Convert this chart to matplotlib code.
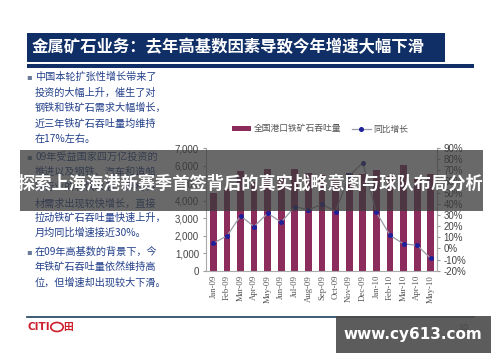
import matplotlib.pyplot as plt
from matplotlib.patches import Rectangle, Circle
from matplotlib.lines import Line2D
from matplotlib.ticker import FuncFormatter, MultipleLocator

plt.rcParams['font.family'] = ['Noto Sans CJK SC', 'DejaVu Sans']

months = ["Jan-09", "Feb-09", "Mar-09", "Apr-09", "May-09", "Jun-09", "Jul-09", "Aug-09", "Sep-09",
          "Oct-09", "Nov-09", "Dec-09", "Jan-10", "Feb-10", "Mar-10", "Apr-10", "May-10"]
throughput = [4430, 4660, 5670, 5040, 5800, 5420, 5800, 5570, 5480,
              5300, 5600, 5500, 5760, 5400, 6050, 5300, 5500]
yoy_growth = [4.6, 11.2, 29.1, 19.6, 31.5, 23.5, 37.5, 34.5, 39.6,
              33.0, 65.4, 76.5, 32.4, 11.8, 4.0, 2.8, -9.0]

title = "金属矿石业务：去年高基数因素导致今年增速大幅下滑"
bullets = [
    ["中国本轮扩张性增长带来了", "投资的大幅上升，催生了对", "钢铁和铁矿石需求大幅增长，",
     "近三年铁矿石吞吐量均维持", "在17%左右。"],
    ["09年受益国家四万亿投资的", "推进以及钢铁、汽车和造船", "等行业的较快发展，原材料",
     "材需求出现较快增长，直接", "拉动铁矿石吞吐量快速上升，", "月均同比增速接近30%。"],
    ["在09年高基数的背景下，今", "年铁矿石吞吐量依然维持高", "位，但增速却出现较大下滑。"],
]
banner = "探索上海海港新赛季首签背后的真实战略意图与球队布局分析"
watermark = "www.cy613.com"

W, H = 500, 362
fig = plt.figure(figsize=(5, 3.62), dpi=100)
fig.patch.set_facecolor('white')


def fx(x):
    return x / W


def fy(y):
    return 1 - y / H


# title bar
fig.add_artist(Rectangle((fx(27), fy(62)), fx(418), 29 / H, transform=fig.transFigure,
                         facecolor='#0f2f66', edgecolor='none', zorder=1))
fig.add_artist(Rectangle((fx(27), fy(68)), fx(447), 4 / H, transform=fig.transFigure,
                         facecolor='#0f2f66', edgecolor='none', zorder=1))
fig.text(fx(32), fy(47.5), title, color='white', fontsize=11.8, fontweight='bold',
         va='center', ha='left')

# bullet text
blue = '#23408a'
line_y = [[77, 93, 108, 124, 139], [157, 172, 187, 203, 218, 233], [252, 267, 282]]
for lines, ys in zip(bullets, line_y):
    fig.text(fx(26), fy(ys[0]), "▪", color='#6a7a99', fontsize=6, va='center', ha='left',
             family='DejaVu Sans')
    for s, y in zip(lines, ys):
        fig.text(fx(35), fy(y), s, color=blue, fontsize=7.3, va='center', ha='left')

# chart
ax = fig.add_axes([fx(206), fy(270.7), fx(230.7), (270.7 - 148) / H])
x = list(range(len(months)))
ax.bar(x, throughput, width=0.5, color='#8b2c5c', zorder=2)
ax.set_ylim(0, 7000)
ax.set_xlim(-0.54, 16.44)
ax.yaxis.set_major_locator(MultipleLocator(1000))
ax.yaxis.set_major_formatter(FuncFormatter(lambda v, p: f"{int(v):,}"))
ax.set_xticks(x)
ax.set_xticklabels(months, rotation=90, family='Liberation Serif', fontsize=6.3, color='#555555')
ax.tick_params(axis='y', labelsize=7, labelcolor='#444444', length=2, color='#999999', pad=3)
ax.tick_params(axis='x', length=0, pad=3)
ax.spines['top'].set_visible(False)
for s in ['left', 'right', 'bottom']:
    ax.spines[s].set_color('#aaaaaa')
    ax.spines[s].set_linewidth(0.8)
for t in ax.get_yticklabels():
    t.set_family('Liberation Sans')

ax2 = ax.twinx()
ax2.plot(x, yoy_growth, color='#9a9aa8', lw=0.9, marker='o', markersize=2.6,
         markerfacecolor='#1f1f9a', markeredgecolor='#1f1f9a', zorder=3)
ax2.set_ylim(-20, 90)
ax2.yaxis.set_major_locator(MultipleLocator(10))
ax2.yaxis.set_major_formatter(FuncFormatter(lambda v, p: f"{int(round(v))}%"))
ax2.tick_params(axis='y', labelsize=7, labelcolor='#444444', length=2, color='#999999', pad=3)
for s in ['top', 'left', 'bottom']:
    ax2.spines[s].set_visible(False)
ax2.spines['right'].set_color('#aaaaaa')
ax2.spines['right'].set_linewidth(0.8)
for t in ax2.get_yticklabels():
    t.set_family('Liberation Sans')

handles = [Rectangle((0, 0), 1, 1, facecolor='#8b2c5c'),
           Line2D([], [], color='#9a9aa8', lw=0.9, marker='o', markersize=2.6,
                  markerfacecolor='#1f1f9a', markeredgecolor='#1f1f9a')]
fig.legend(handles, ["全国港口铁矿石吞吐量", "同比增长"], loc='center',
           bbox_to_anchor=(fx(320), fy(129)), ncol=2, frameon=False, fontsize=6.3,
           handlelength=2.2, handleheight=0.5, columnspacing=1.2, handletextpad=0.3,
           labelcolor='#555555')

# footer
fig.add_artist(Line2D([fx(27), fx(474)], [fy(317), fy(317)], transform=fig.transFigure,
                      color='#1d3f5e', lw=1.2, zorder=1))
fig.text(fx(27), fy(327), "CITI", color='#cc1f2a', fontsize=7.5, fontweight='bold',
         va='center', ha='left', family='DejaVu Sans')
fig.add_artist(Circle((fx(57), fy(327)), 4.5 / H, transform=fig.transFigure,
                      facecolor='none', edgecolor='#cc1f2a', lw=1.2, zorder=2))
fig.text(fx(63), fy(327), "田", color='#cc1f2a', fontsize=7, fontweight='bold',
         va='center', ha='left')
fig.text(fx(458), fy(327), "10", color='#444444', fontsize=6.5, va='center', ha='left',
         family='Liberation Sans')

# overlays
fig.add_artist(Rectangle((fx(20), fy(211)), fx(463), 61 / H, transform=fig.transFigure,
                         facecolor='#3a3a3a', edgecolor='none', alpha=0.76, zorder=5))
fig.text(fx(250), fy(184), banner, color='white', fontsize=12.4, fontweight='bold',
         va='center', ha='center', zorder=6)
fig.add_artist(Rectangle((fx(336), fy(353)), fx(155), 37 / H, transform=fig.transFigure,
                         facecolor='#4a4a4a', edgecolor='none', alpha=0.9, zorder=5))
fig.text(fx(413), fy(334), watermark, color='white', fontsize=11, fontweight='bold',
         va='center', ha='center', family='DejaVu Sans', zorder=6)

fig.savefig('out.png', dpi=100)
